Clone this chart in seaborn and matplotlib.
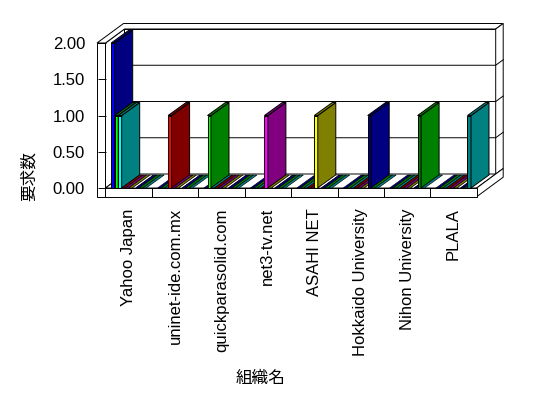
import seaborn as sns
import matplotlib.pyplot as plt
import pandas as pd
from matplotlib.patches import Polygon

# organisations (x categories)
orgs = ["Yahoo Japan", "uninet-ide.com.mx", "quickparasolid.com", "net3-tv.net",
        "ASAHI NET", "Hokkaido University", "Nihon University", "PLALA"]

# series (no legend in the original chart)
series = ["系列1", "系列2", "系列3", "系列4", "系列5",
          "系列6", "系列7", "系列8", "系列9", "系列10"]

# request counts, one list per series (same order as orgs)
s1 = [2, 0, 0, 0, 0, 0, 0, 0]
s2 = [1, 0, 1, 0, 0, 0, 0, 0]
s3 = [1, 0, 0, 0, 0, 0, 0, 0]
s4 = [0, 1, 0, 0, 0, 0, 0, 0]
s5 = [0, 0, 0, 1, 0, 0, 0, 0]
s6 = [0, 0, 0, 0, 1, 0, 0, 0]
s7 = [0, 0, 0, 0, 0, 0, 0, 0]
s8 = [0, 0, 0, 0, 0, 1, 0, 0]
s9 = [0, 0, 0, 0, 0, 0, 1, 0]
s10 = [0, 0, 0, 0, 0, 0, 0, 1]
values = [s1, s2, s3, s4, s5, s6, s7, s8, s9, s10]

yticks = [0, 0.5, 1.0, 1.5, 2.0]
ytick_labels = ["0.00", "0.50", "1.00", "1.50", "2.00"]

front_colors = ["#0000FF", "#00FF00", "#00FFFF", "#FF0000", "#FF00FF",
                "#FFFF00", "#FFFFFF", "#000080", "#008000", "#008080"]
dark_colors = ["#000080", "#008000", "#008080", "#800000", "#800080",
               "#808000", "#FFFFFF", "#000080", "#008000", "#008080"]

rows = []
for name, vals in zip(series, values):
    for org, v in zip(orgs, vals):
        rows.append({"org": org, "series": name, "count": v})
df = pd.DataFrame(rows)

plt.rcParams['font.family'] = ['Liberation Sans', 'Noto Sans CJK JP']
plt.rcParams['font.size'] = 12

W, H = 548, 398
fig = plt.figure(figsize=(W / 100, H / 100), dpi=100)
fig.patch.set_facecolor("white")

# front plane of the 3-d box, in pixels
x_left, x_right, y_top, y_bot = 105.5, 476.7, 43, 188
ax = fig.add_axes([x_left / W, 1 - y_bot / H, (x_right - x_left) / W, (y_bot - y_top) / H])

n = len(orgs)
px_x = n / (x_right - x_left)      # data units per pixel
px_y = 2.0 / (y_bot - y_top)

WX, WY = 19 * px_x, 14 * px_y      # depth to back wall
TX, TY = 7.5 * px_x, 5.5 * px_y    # wall thickness (depth)
BX, BY = 18 * px_x, 13 * px_y      # bar depth
LT = 8.5 * px_x                    # left wall thickness
FT = 8.7 * px_y                    # floor thickness

sns.barplot(data=df, x="org", y="count", hue="series", order=orgs, hue_order=series,
            palette=front_colors, saturation=1, width=0.754, dodge=True,
            errorbar=None, legend=False, edgecolor="black", linewidth=0.7, ax=ax)

ax.set_xlim(-0.5, n - 0.5)
ax.set_ylim(0, 2)
xl, xr = -0.5, n - 0.5
ytop = 2.0

lw = 0.7
wall = dict(facecolor="white", edgecolor="black", linewidth=lw, clip_on=False, zorder=1)


def poly(pts, **kw):
    ax.add_patch(Polygon(pts, closed=True, **kw))


# back wall, left wall, floor
poly([(xl + WX, WY), (xr + WX, WY), (xr + WX, ytop + WY), (xl + WX, ytop + WY)], **wall)
poly([(xl, 0), (xl, ytop), (xl + WX, ytop + WY), (xl + WX, WY)], **wall)
poly([(xl, 0), (xr, 0), (xr + WX, WY), (xl + WX, WY)], **wall)
# top of walls
poly([(xl - LT, ytop), (xl, ytop), (xl + WX, ytop + WY), (xr + WX, ytop + WY),
      (xr + WX + TX, ytop + WY + TY), (xl - LT + WX + TX, ytop + WY + TY)], **wall)
# right side of back wall and floor
poly([(xr + WX, WY), (xr + WX, ytop + WY), (xr + WX + TX, ytop + WY + TY),
      (xr + WX + TX, WY + TY)], **wall)
poly([(xr, 0), (xr, -FT), (xr + WX + TX, -FT + WY + TY), (xr + WX + TX, WY + TY)], **wall)
# front faces
poly([(xl, -FT), (xr, -FT), (xr, 0), (xl, 0)], **wall)
poly([(xl - LT, -FT), (xl, -FT), (xl, ytop), (xl - LT, ytop)], **wall)

# gridlines on back wall
for v in yticks[1:-1]:
    ax.plot([xl + WX, xr + WX, xr + WX + TX], [v + WY, v + WY, v + WY + TY],
            color="black", lw=lw, clip_on=False, zorder=1.5)

# category separators on the floor front
ax.vlines([k + 0.5 for k in range(n - 1)], -FT, 0, colors="black", lw=lw,
          clip_on=False, zorder=1.5)

# give the bars depth
for i, cont in enumerate(ax.containers):
    for bar in cont:
        x0, w, h = bar.get_x(), bar.get_width(), bar.get_height()
        z = 3 + x0
        bar.set_zorder(z)
        bar.set_clip_on(False)
        face = dict(facecolor=dark_colors[i], edgecolor="black",
                    linewidth=lw if h > 0 else 0.45, clip_on=False, zorder=z + 0.001)
        if h > 0:
            poly([(x0 + w, 0), (x0 + w + BX, BY), (x0 + w + BX, h + BY), (x0 + w, h)], **face)
        poly([(x0, h), (x0 + BX, h + BY), (x0 + w + BX, h + BY), (x0 + w, h)], **face)

for s in ax.spines.values():
    s.set_visible(False)
ax.set_facecolor("none")
ax.set_xlabel("")
ax.set_ylabel("")

ax.set_yticks(yticks)
ax.set_yticklabels(ytick_labels)
ax.tick_params(axis="y", direction="out", length=8.5 * 0.72, width=lw, pad=8.6, labelsize=12)
ax.set_xticks(range(n))
ax.set_xticklabels(orgs, rotation=90)
ax.tick_params(axis="x", length=0, pad=14.5, labelsize=12)

fig.text(29 / W, 1 - 176 / H, "要求数", rotation=90, ha="center", va="center", fontsize=12)
fig.text(261 / W, 1 - 378 / H, "組織名", ha="center", va="center", fontsize=12)

fig.savefig("out.png", dpi=100)
